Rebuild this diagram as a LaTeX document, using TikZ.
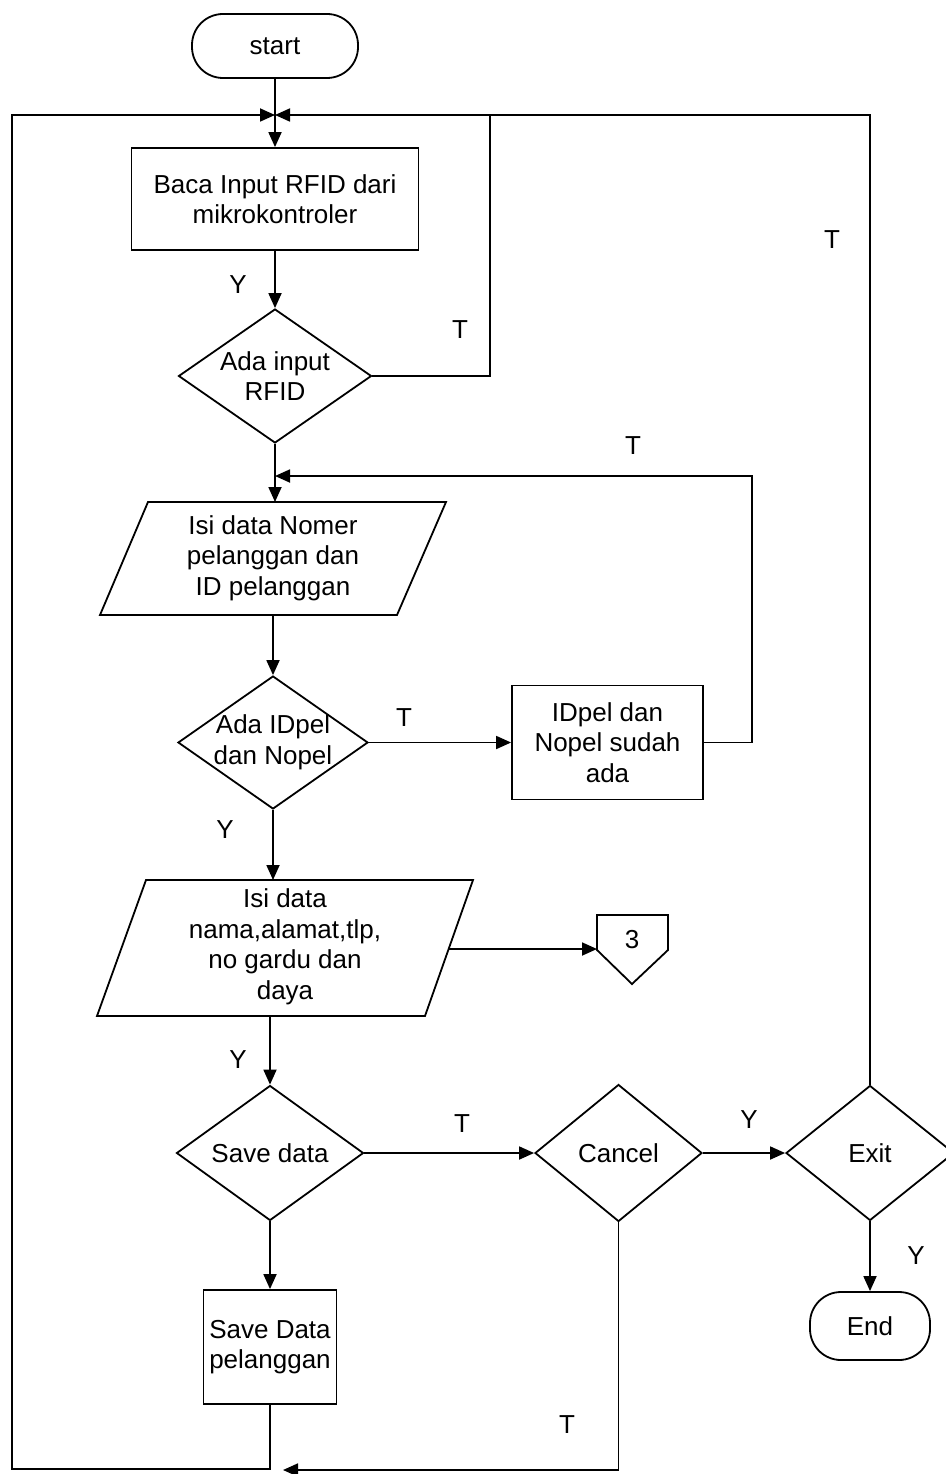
\documentclass[tikz,border=0pt]{standalone}
\usepackage{fontspec}
\setmainfont{Liberation Sans}
\usetikzlibrary{shapes.geometric,arrows.meta}
\begin{document}
\begin{tikzpicture}[x=1pt,y=-1pt, line width=1.8pt,
  every node/.style={font=\fontsize{26}{30.5}\selectfont, align=center, inner sep=0pt},
  box/.style={draw, rectangle},
  dec/.style={draw, diamond},
  term/.style={draw, rectangle, rounded corners=31pt},
  arr/.style={-{Triangle[length=15pt,width=13pt]}}]
\useasboundingbox (0,0) rectangle (945,1474);

% terminals and boxes
\node[term, minimum width=166pt, minimum height=64pt] (start) at (275,46) {start};
\node[box, minimum width=287pt, minimum height=102pt] (b1) at (275,199) {Baca Input RFID dari\\mikrokontroler};
\node[dec, minimum width=193pt, minimum height=134pt] (d1) at (275,376) {};
\node (d1t) at (d1) {Ada input\\RFID};

% parallelogram 1
\draw (148,502) -- (446,502) -- (397,615) -- (100,615) -- cycle;
\coordinate (p1n) at (275,502);
\coordinate (p1s) at (273,615);
\node (p1t) at (273,558) {Isi data Nomer\\pelanggan dan\\ID pelanggan};

\node[dec, minimum width=190pt, minimum height=133pt] (d2) at (273,742.5) {};
\node (d2t) at (d2) {Ada IDpel\\dan Nopel};
\node[box, minimum width=191pt, minimum height=114pt] (b2) at (607.5,742.5) {IDpel dan\\Nopel sudah\\ada};

% parallelogram 2
\draw (146,880) -- (473,880) -- (425,1016) -- (97,1016) -- cycle;
\coordinate (p2n) at (273,880);
\coordinate (p2s) at (270,1016);
\coordinate (p2e) at (449,949);
\node (p2t) at (285,947) {Isi data\\nama,alamat,tlp,\\no gardu dan\\daya};

% off-page connector 3
\draw (597,915) -- (668,915) -- (668,950) -- (632,984) -- (597,950) -- cycle;
\coordinate (c3w) at (597,949);
\node (c3) at (632,940) {3};

\node[dec, minimum width=187pt, minimum height=135pt] (d3) at (270,1153) {};
\node (d3t) at (d3) {Save data};
\node[dec, minimum width=167pt, minimum height=137pt] (d4) at (618.5,1153) {};
\node (d4t) at (d4) {Cancel};
\node[dec, minimum width=168pt, minimum height=135pt] (d5) at (870,1153) {};
\node (d5t) at (d5) {Exit};
\node[term, minimum width=120pt, minimum height=68pt] (end) at (870,1326) {End};
\node[box, minimum width=133pt, minimum height=114pt] (b3) at (270,1347) {Save Data\\pelanggan};

% junction coordinates
\coordinate (j1) at (275,115);
\coordinate (j2) at (275,476);
\coordinate (rfidT) at (490,115);
\coordinate (loopR) at (752,476);
\coordinate (botL) at (270,1469);
\coordinate (leftTop) at (12,115);
\coordinate (canEnd) at (283,1470);

% connectors
\draw[arr] (start.south) -- (b1.north);
\draw[arr] (b1.south) -- (d1.north);
\draw (d1.east) -| (rfidT);
\draw[arr] (d1.south) -- (p1n);
\draw[arr] (p1s) -- (d2.north);
\draw[arr] (d2.east) -- (b2.west);
\draw[arr] (b2.east) -| (loopR) -- (j2);
\draw[arr] (d2.south) -- (p2n);
\draw[arr] (p2e) -- (c3w);
\draw[arr] (p2s) -- (d3.north);
\draw[arr] (d3.east) -- (d4.west);
\draw[arr] (d4.east) -- (d5.west);
\draw[arr] (d5.south) -- (end.north);
\draw[arr] (d3.south) -- (b3.north);
\draw[arr] (d5.north) |- (j1);
\draw[arr] (b3.south) -- (botL) -| (leftTop) -- (j1);
\draw[arr] (d4.south) |- (canEnd);

% labels
\node (l1) at (238,285) {Y};
\node (l2) at (460,330) {T};
\node (l3) at (633,446) {T};
\node (l4) at (404,718) {T};
\node (l5) at (225,830) {Y};
\node (l6) at (238,1060) {Y};
\node (l7) at (462,1124) {T};
\node (l8) at (749,1120) {Y};
\node (l9) at (832,240) {T};
\node (l10) at (916,1256) {Y};
\node (l11) at (567,1425) {T};
\end{tikzpicture}
\end{document}
